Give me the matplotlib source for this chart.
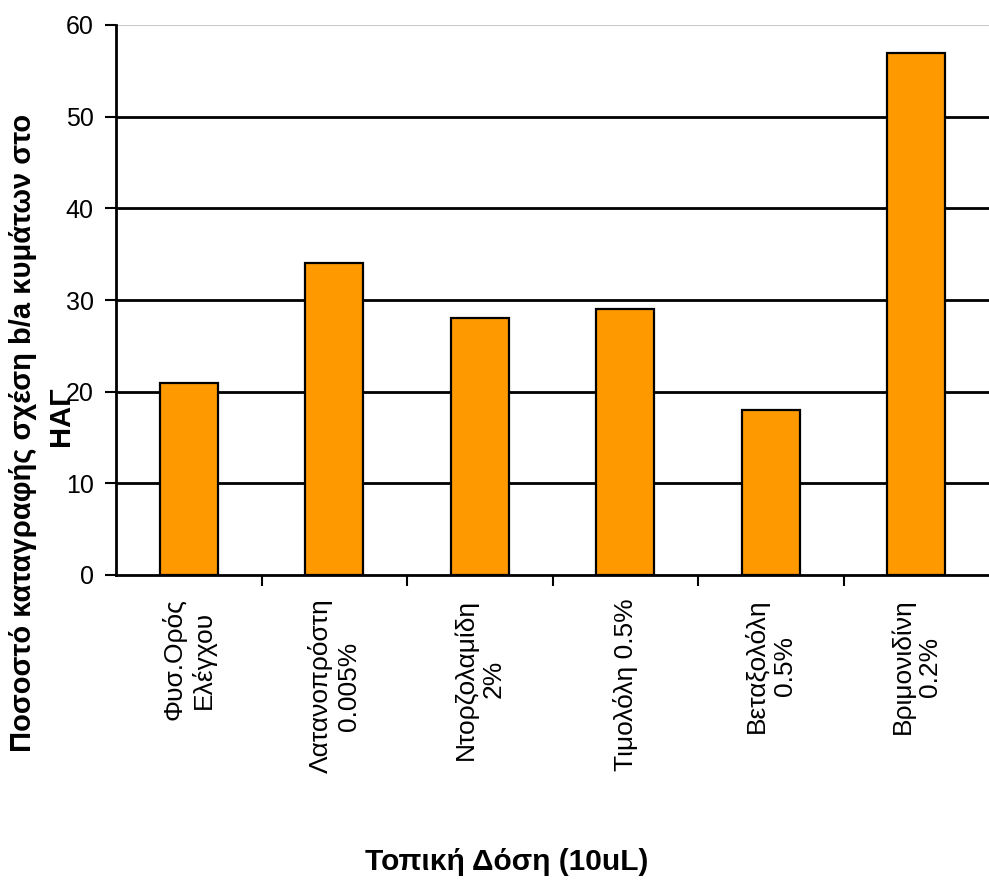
import matplotlib.pyplot as plt
import numpy as np

plt.rcParams['font.family'] = ['Liberation Sans', 'DejaVu Sans']

# drug groups and recorded percentage
groups = ['Φυσ.Ορός\nΕλέγχου', 'Λατανοπρόστη\n0.005%', 'Ντορζολαμίδη\n2%',
          'Τιμολόλη 0.5%', 'Βεταξολόλη\n0.5%', 'Βριμονιδίνη\n0.2%']
values = [21, 34, 28, 29, 18, 57]
yticks = [0, 10, 20, 30, 40, 50, 60]

fig = plt.figure(figsize=(9.89, 8.82), dpi=100)
ax = fig.add_axes([116 / 989, 1 - 575 / 882, 1 - 116 / 989, 550 / 882])

x = np.arange(len(groups))
ax.bar(x, values, width=0.4, color='#FF9900', edgecolor='black',
       linewidth=1.6, zorder=3)

ax.set_xlim(-0.5, len(groups) - 0.5)
ax.set_ylim(0, 60)
ax.set_yticks(yticks)
ax.tick_params(axis='y', direction='out', length=8, width=1.5,
               labelsize=18, pad=8)

# category labels sit between boundary ticks
ax.set_xticks(x[:-1] + 0.5)
ax.set_xticks(x, minor=True)
ax.tick_params(axis='x', which='major', direction='out', length=8, width=1.5,
               labelbottom=False)
ax.tick_params(axis='x', which='minor', length=0, pad=17, labelsize=19)
ax.set_xticklabels(groups, minor=True, rotation=90, va='top', ha='center',
                   multialignment='center')

for y in yticks[1:]:
    ax.axhline(y, color='black' if y < 60 else '#c8c8c8', lw=2 if y < 60 else 1.5,
               zorder=1)

for s in ['top', 'right']:
    ax.spines[s].set_visible(False)
ax.spines['left'].set_linewidth(2)
ax.spines['bottom'].set_linewidth(2)

# y title wraps onto a second short line
fig.text(23 / 989, 1 - 433 / 882, 'Ποσοστό καταγραφής σχέση b/a κυμάτων στο',
         fontsize=21, fontweight='bold', rotation=90, ha='center', va='center')
fig.text(61 / 989, 1 - 416 / 882, 'ΗΑΓ',
         fontsize=21, fontweight='bold', rotation=90, ha='center', va='center')
fig.text(507 / 989, 1 - 862 / 882, 'Τοπική Δόση (10uL)', fontsize=21.5,
         fontweight='bold', ha='center', va='center')

fig.savefig('out.png', dpi=100)
